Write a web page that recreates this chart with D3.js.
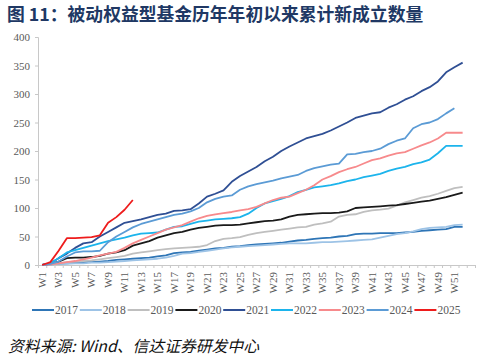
<!DOCTYPE html>
<html>
<head>
<meta charset="utf-8">
<script src="https://cdn.jsdelivr.net/npm/d3@7"></script>
<style>
    body { margin: 0; background: #fff; }
</style>
</head>
<body>
<svg id="drawing_region"></svg>
<script>
const weeks = d3.range(1, 54).map(d => "W" + d);
const week_labels = d3.range(1, 52, 2).map(d => "W" + d);
const y_ticks = [0, 50, 100, 150, 200, 250, 300, 350, 400];
const years = ["2017", "2018", "2019", "2020", "2021", "2022", "2023", "2024", "2025"];
const colors = ["#2e75b6", "#9dc3e6", "#bfbfbf", "#1a1a1a", "#2f4f94", "#1cb4ec", "#f78a8c", "#5b9bd5", "#ee1c1c"];

const s2017 = [0,1,2,3,4,5,5,6,7,9,10,11,12,13,15,17,21,22,23,25,27,29,30,32,33,35,36,37,38,39,41,43,44,46,47,48,50,51,54,55,55,56,56,56,57,58,60,61,62,63,67,67];
const s2018 = [0,1,2,2,3,3,4,4,5,6,7,8,9,10,11,13,16,20,21,23,25,27,29,31,32,33,34,35,36,37,38,38,38,39,40,40,41,42,43,44,45,48,51,54,56,59,63,65,66,67,70,71];
const s2019 = [0,1,3,5,6,7,8,10,12,14,16,20,22,24,26,28,29,30,31,32,35,42,46,47,49,53,56,58,60,62,64,66,67,71,73,76,85,88,89,93,96,97,99,104,110,114,118,121,125,130,135,137];
const s2020 = [0,2,6,12,13,13,14,16,20,22,26,34,38,42,48,52,56,58,62,65,67,69,70,70,71,73,75,77,78,80,85,88,89,90,91,91,92,94,100,101,102,103,104,105,107,109,111,113,116,119,123,127];
const s2021 = [0,3,12,20,30,38,40,50,58,66,74,77,80,84,88,90,95,96,98,108,120,125,131,146,156,164,172,182,190,200,208,215,222,226,230,236,243,250,258,262,266,268,276,282,290,296,305,312,322,338,347,355];
const s2022 = [0,3,12,22,26,30,34,38,42,45,48,52,55,56,57,62,67,68,72,76,78,80,81,82,84,90,100,108,112,116,121,128,132,136,138,140,143,147,150,154,157,160,165,169,172,177,180,185,196,209,209,209];
const s2023 = [0,1,3,5,7,10,13,17,20,23,30,38,44,50,56,62,66,70,76,82,86,89,91,93,96,98,102,108,114,118,120,126,132,140,150,156,163,168,172,178,184,187,192,196,198,204,210,215,222,232,232,232];
const s2024 = [0,2,6,15,22,24,24,25,40,50,58,66,72,76,80,84,88,90,94,100,110,116,120,122,132,138,142,145,148,152,155,158,165,170,173,176,178,194,195,198,200,204,212,218,222,240,247,250,256,266,275];
const s2025 = [0,5,25,47,47,48,49,52,74,84,97,114];

const series_values = [s2017, s2018, s2019, s2020, s2021, s2022, s2023, s2024, s2025];

class LineChart {

    constructor( config, data ) {
        this.config = {
            parent: config.parent,
            width: config.width || 492,
            height: config.height || 361,
            margin: config.margin || {top:37, right:17, bottom:96, left:38}
        }
        this.data = data;
        this.init();
    }

    init() {
        let self = this;

        self.svg = d3.select( self.config.parent )
            .attr('width', self.config.width)
            .attr('height', self.config.height);

        self.chart = self.svg.append('g')
            .attr('transform', `translate(${self.config.margin.left}, ${self.config.margin.top})`);

        self.inner_width = self.config.width - self.config.margin.left - self.config.margin.right;
        self.inner_height = self.config.height - self.config.margin.top - self.config.margin.bottom;

        self.xscale = d3.scaleBand()
            .domain( weeks )
            .range( [0, self.inner_width] )
            .padding(0);

        self.xtick_scale = d3.scaleLinear()
            .domain( [0, weeks.length] )
            .range( [0, self.inner_width] );

        self.yscale = d3.scaleLinear()
            .domain( [0, 400] )
            .range( [self.inner_height, 0] );

        self.title = self.svg.append("text")
            .attr("x", 7)
            .attr("y", 21)
            .attr("fill", "#203864")
            .attr("font-family", "'Noto Sans CJK SC', sans-serif")
            .attr("font-weight", "bold")
            .attr("font-size", "17.8px")
            .text("图 11：被动权益型基金历年年初以来累计新成立数量");

        self.source = self.svg.append("text")
            .attr("x", 8)
            .attr("y", 352)
            .attr("fill", "#111")
            .attr("font-family", "'Noto Sans CJK SC', sans-serif")
            .attr("font-style", "italic")
            .attr("font-size", "15.8px")
            .text("资料来源: Wind、信达证券研发中心");

        self.yaxis = d3.axisLeft( self.yscale )
            .tickValues( y_ticks )
            .tickSize(3)
            .tickPadding(5);

        self.xaxis_marks = d3.axisBottom( self.xtick_scale )
            .tickValues( d3.range(0, weeks.length + 1) )
            .tickSize(3)
            .tickFormat("");

        self.xaxis = d3.axisBottom( self.xscale )
            .tickValues( week_labels )
            .tickSize(0)
            .tickPadding(5);

        self.yaxis_group = self.chart.append('g');
        self.xmarks_group = self.chart.append('g')
            .attr('transform', `translate(0, ${self.inner_height})`);
        self.xaxis_group = self.chart.append('g')
            .attr('transform', `translate(0, ${self.inner_height})`);

        self.line = d3.line()
            .defined( d => d != null )
            .x( (d, i) => self.xscale( weeks[i] ) + self.xscale.bandwidth() / 2 )
            .y( d => self.yscale( d ) );

        self.legend = self.svg.append('g')
            .attr('transform', `translate(32, 310)`);
    }

    update() {
        let self = this;
        self.render();
    }

    render() {
        let self = this;

        self.yaxis_group.call( self.yaxis );
        self.yaxis_group.select(".domain").attr("stroke", "#c8c8c8");
        self.yaxis_group.selectAll(".tick line").attr("stroke", "#c8c8c8");
        self.yaxis_group.selectAll(".tick text")
            .attr("fill", "#595959")
            .attr("font-family", "'Liberation Serif', serif")
            .attr("font-size", "11px");

        self.xmarks_group.call( self.xaxis_marks );
        self.xmarks_group.select(".domain").attr("stroke", "#c8c8c8");
        self.xmarks_group.selectAll(".tick line").attr("stroke", "#c8c8c8");

        self.xaxis_group.call( self.xaxis );
        self.xaxis_group.select(".domain").remove();
        self.xaxis_group.selectAll(".tick text")
            .attr("fill", "#595959")
            .attr("font-family", "'Liberation Serif', serif")
            .attr("font-size", "11px")
            .attr("text-anchor", "end")
            .attr("dy", "0.35em")
            .attr("transform", "translate(0, 3) rotate(-90)")
            .attr("x", -4)
            .attr("y", 0);

        self.chart.selectAll(".series")
            .data( self.data )
            .enter()
            .append("path")
            .attr("class", "series")
            .attr("fill", "none")
            .attr("stroke", d => d.color )
            .attr("stroke-width", 1.8)
            .attr("stroke-linejoin", "round")
            .attr("d", d => self.line( d.values ));

        const item = self.legend.selectAll("g")
            .data( self.data )
            .enter()
            .append("g")
            .attr("transform", (d, i) => `translate(${i * 47.8}, 0)`);

        item.append("line")
            .attr("x1", 0)
            .attr("x2", 22)
            .attr("y1", 0)
            .attr("y2", 0)
            .attr("stroke", d => d.color )
            .attr("stroke-width", 2);

        item.append("text")
            .attr("x", 23)
            .attr("y", 0)
            .attr("dy", "0.35em")
            .attr("fill", "#595959")
            .attr("font-family", "'Liberation Serif', serif")
            .attr("font-size", "11.5px")
            .text( d => d.year );
    }
}

const data = years.map( (y, i) => ({ year: y, color: colors[i], values: series_values[i] }) );

var config = {
    parent: '#drawing_region',
    width: 492,
    height: 361,
    margin: {top:37, right:17, bottom:96, left:38}
};

const line_chart = new LineChart( config, data );
line_chart.update();
</script>
</body>
</html>
